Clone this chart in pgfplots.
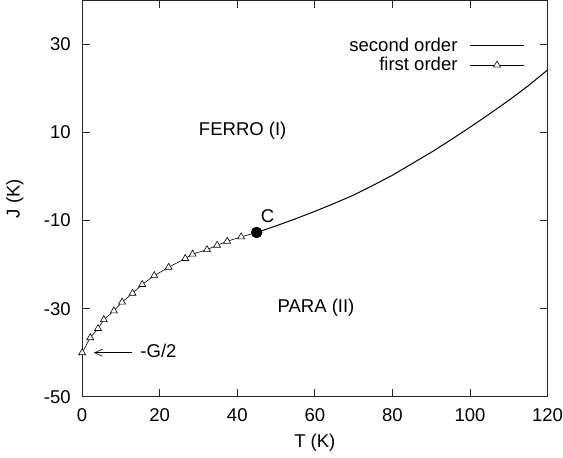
\documentclass[border=0pt]{standalone}
\usepackage{fontspec}
\setmainfont{Liberation Sans}
\usepackage{pgfplots}
\pgfplotsset{compat=1.18}
\usetikzlibrary{arrows.meta}

% first order line (triangles)
\pgfplotstableread{
T J
0.0 -40.0
2.1 -36.6
4.1 -34.5
5.6 -32.5
8.2 -30.5
10.3 -28.5
13.0 -26.5
15.5 -24.5
18.6 -22.5
22.3 -20.6
26.6 -18.6
28.5 -17.6
32.2 -16.6
34.8 -15.6
37.4 -14.7
41.0 -13.7
}\firstorder

% second order line
\pgfplotstableread{
T J
45 -12.7
50 -11.2
55 -9.6
60 -7.9
65 -6.1
70 -4.2
75 -2.0
80 0.3
85 2.9
90 5.5
95 8.3
100 11.2
105 14.2
110 17.3
115 20.6
120 24.2
}\secondorder

\begin{document}
\fontsize{18.5}{21}\selectfont
\begin{tikzpicture}
\begin{axis}[
  scale only axis,
  width=465pt, height=396pt,
  xmin=0, xmax=120, ymin=-50, ymax=40,
  xtick={0,20,40,60,80,100,120},
  xticklabels={0,20,40,60,80,100,120},
  ytick={-50,-30,-10,10,30},
  yticklabels={-50,-30,-10,10,30},
  tick align=inside,
  major tick length=8pt,
  every tick/.style={black, line width=0.8pt},
  axis line style={line width=0.8pt, black!85},
  tick label style={font=\fontsize{18.5}{21}\selectfont},
  label style={font=\fontsize{18.5}{21}\selectfont},
  xlabel={T (K)},
  ylabel={J (K)},
  xticklabel style={yshift=-5pt, inner xsep=0pt},
  yticklabel style={xshift=-5pt},
  ylabel style={yshift=8pt},
  legend plot pos=right,
  legend cell align=right,
  legend style={draw=none, fill=none, inner sep=0pt,
    at={(axis description cs:0.951,0.91)}, anchor=north east,
    font=\fontsize{18.5}{19}\selectfont,
    nodes={inner ysep=1.5pt},
    /tikz/column sep=10pt},
  legend image code/.code={%
    \draw[#1] (0pt,0pt) -- (54pt,0pt);
    \path[#1, only marks] plot coordinates {(27pt,0pt)};},
]
\addplot[black, line width=1pt, no markers] table[x=T, y=J] {\secondorder};
\addlegendentry{second order}
\addplot[black, line width=0.6pt, mark=triangle*, mark size=4pt,
  mark options={fill=white, line width=0.6pt}] table[x=T, y=J] {\firstorder};
\addlegendentry{first order}
% thin link from last triangle to C
\addplot[black, line width=0.6pt, forget plot] coordinates {(41.0,-13.7) (45,-12.7)};
\addplot[only marks, mark=*, mark size=5.5pt, black, forget plot] coordinates {(45,-12.7)};
% inward ticks on all four sides
\pgfplotsinvokeforeach{0,20,40,60,80,100,120}{
  \draw[black!85, line width=0.8pt] (axis cs:#1,-50) -- ++(0pt,8pt);
  \draw[black!85, line width=0.8pt] (axis cs:#1,40) -- ++(0pt,-8pt);
}
\pgfplotsinvokeforeach{-50,-30,-10,10,30}{
  \draw[black!85, line width=0.8pt] (axis cs:0,#1) -- ++(8pt,0pt);
  \draw[black!85, line width=0.8pt] (axis cs:120,#1) -- ++(-8pt,0pt);
}
\node[anchor=center] at (axis cs:47.8,-9.0) {C};
\node[anchor=center] at (axis cs:41.4,10.3) {FERRO (I)};
\node[anchor=center] at (axis cs:60.3,-29.7) {PARA (II)};
\node[anchor=west, inner sep=0pt] at (axis cs:15.0,-39.6) {-G/2};
\draw[-{Straight Barb[length=8pt, width=7pt]}, line width=0.6pt]
  (axis cs:12.9,-40) -- (axis cs:3.0,-40);
\end{axis}
\end{tikzpicture}
\end{document}
